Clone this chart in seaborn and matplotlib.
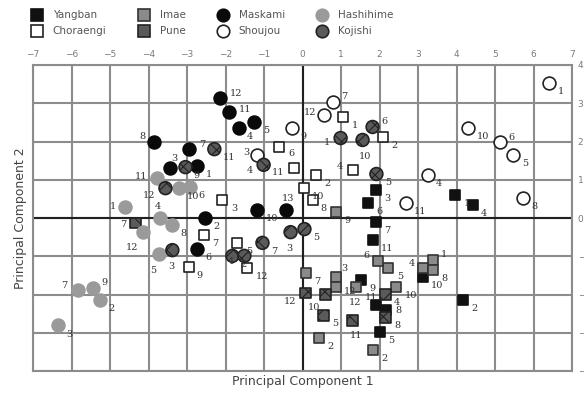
import numpy as np
import pandas as pd
import matplotlib
matplotlib.use("Agg")
import matplotlib.pyplot as plt
import seaborn as sns
from matplotlib.lines import Line2D

# ---------------- data ----------------
groups = ["Yangban", "Choraengi", "Imae", "Pune", "Maskami", "Shoujou", "Hashihime", "Kojishi"]

yangban_x = [3.97, 4.18, 1.90, 4.42, 2.00, 1.69, 1.90, 1.51, 3.12, 1.82, 1.90, 2.16]
yangban_y = [0.60, -2.14, 0.73, 0.34, -2.98, 0.39, -0.10, -1.62, -1.54, -0.58, -2.27, -2.41]
yangban_lab = ["1", "2", "3", "4", "5", "6", "7", "9", "10", "11", "12", "8"]

choraengi_x = [1.06, 2.10, -2.08, 1.32, -1.69, -0.62, -2.57, 0.26, -2.96, 0.03, -0.23, -1.43, 0.34]
choraengi_y = [2.64, 2.12, 0.47, 1.25, -0.65, 1.86, -0.44, 0.47, -1.28, 0.78, 1.31, -1.31, 1.12]
choraengi_lab = ["1", "2", "3", "4", "5", "6", "7", "8", "9", "10", "11", "12", "2"]

imae_x = [3.38, 0.42, 1.84, 0.86, 3.12, 2.23, 1.95, 0.08, 3.40, 0.86, 2.44, 1.40, 0.86]
imae_y = [-1.10, -3.14, -3.45, -1.54, -1.31, -1.31, -1.12, -1.44, -1.36, 0.16, -1.80, -1.80, -1.80]
imae_lab = ["1", "2", "2", "3", "4", "5", "6", "7", "8", "9", "10", "11", "12"]

pune_x = [0.08, 0.60, 0.55, 1.30, 2.16, 2.16, -4.34]
pune_y = [-1.96, -2.01, -2.54, -2.67, -1.99, -2.59, -0.13]
pune_lab = ["12", "10", "5", "11", "4", "8", "7"]

maskami_x = [-2.13, -1.90, -1.66, -1.25, -3.87, -2.94, -3.45, -2.73, -1.17, -0.42, -2.52, -2.73]
maskami_y = [3.14, 2.77, 2.35, 2.51, 1.99, 1.80, 1.31, 1.36, 0.21, 0.21, 0.00, -0.81]
maskami_lab = ["12", "11", "4", "5", "8", "7", "3", "1", "10", "13", "2", "6"]

shoujou_x = [6.39, -1.19, 3.25, 5.48, 5.14, 0.78, 5.74, -0.26, 4.31, 2.68, 0.55]
shoujou_y = [3.53, 1.65, 1.12, 1.65, 1.99, 3.03, 0.52, 2.35, 2.35, 0.38, 2.69]
shoujou_lab = ["1", "3", "4", "5", "6", "7", "8", "9", "10", "11", "12"]

hashihime_x = [-4.60, -5.25, -6.34, -3.69, -3.74, -2.91, -5.84, -3.38, -5.45, -3.22, -3.77, -4.13]
hashihime_y = [0.29, -2.14, -2.80, 0.00, -0.94, 0.81, -1.88, -0.18, -1.83, 0.78, 1.05, -0.37]
hashihime_lab = ["1", "2", "3", "4", "5", "6", "7", "8", "9", "10", "11", "12"]

kojishi_x = [-3.56, -2.29, -3.04, -1.01, 0.99, 1.82, 1.56, 1.92, -0.31, 0.05, -1.04, -1.82, -1.51, -3.38]
kojishi_y = [0.78, 1.80, 1.33, 1.39, 2.09, 2.38, 2.04, 1.15, -0.37, -0.29, -0.65, -0.99, -0.99, -0.84]
kojishi_lab = ["12", "11", "9", "4", "1", "6", "10", "5", "3", "5", "7", "2", "4", "3"]

data = {
    "Yangban": (yangban_x, yangban_y, yangban_lab),
    "Choraengi": (choraengi_x, choraengi_y, choraengi_lab),
    "Imae": (imae_x, imae_y, imae_lab),
    "Pune": (pune_x, pune_y, pune_lab),
    "Maskami": (maskami_x, maskami_y, maskami_lab),
    "Shoujou": (shoujou_x, shoujou_y, shoujou_lab),
    "Hashihime": (hashihime_x, hashihime_y, hashihime_lab),
    "Kojishi": (kojishi_x, kojishi_y, kojishi_lab),
}

# ---------------- style ----------------
styles = {
    "Yangban":   dict(marker="s", face="#111111", edge="#111111", s=62, hatch=None),
    "Choraengi": dict(marker="s", face="white",   edge="#222222", s=62, hatch=None),
    "Imae":      dict(marker="s", face="#8a8a8a", edge="#333333", s=62, hatch=None),
    "Pune":      dict(marker="s", face="#5a5a5a", edge="#222222", s=62, hatch="xx"),
    "Maskami":   dict(marker="o", face="#0a0a0a", edge="#0a0a0a", s=85, hatch=None),
    "Shoujou":   dict(marker="o", face="white",   edge="#222222", s=85, hatch=None),
    "Hashihime": dict(marker="o", face="#9a9a9a", edge="#9a9a9a", s=85, hatch=None),
    "Kojishi":   dict(marker="o", face="#5a5a5a", edge="#222222", s=85, hatch="xx"),
}

# label offsets (points) : default lower-right
label_offsets = {
    ("Maskami", "12"): (7, 3), ("Maskami", "11"): (7, 2), ("Maskami", "8"): (-10, 4),
    ("Maskami", "7"): (7, 3), ("Maskami", "3"): (1, 7), ("Maskami", "13"): (-3, 8),
    ("Shoujou", "7"): (6, 4), ("Shoujou", "12"): (-14, 2), ("Shoujou", "3"): (-10, 2),
    ("Shoujou", "6"): (6, 3), ("Shoujou", "1"): (7, -6),
    ("Choraengi", "4"): (-12, 3), ("Choraengi", "11"): (-16, -3), ("Choraengi", "6"): (7, -5),
    ("Kojishi", "12"): (-16, -5), ("Kojishi", "1"): (-12, -3), ("Kojishi", "10"): (-3, -12),
    ("Kojishi", "4"): (-12, -4), ("Kojishi", "6"): (6, 4), ("Kojishi", "3"): (-3, -12),
    ("Hashihime", "1"): (-11, 0), ("Hashihime", "4"): (-4, 8), ("Hashihime", "7"): (-12, 3),
    ("Hashihime", "9"): (6, 4), ("Hashihime", "12"): (-13, -11), ("Hashihime", "11"): (-16, 1),
    ("Hashihime", "5"): (-6, -12), ("Hashihime", "3"): (6, -7),
    ("Pune", "12"): (-16, -6), ("Pune", "7"): (-11, -1), ("Pune", "11"): (-2, -11),
    ("Pune", "10"): (-13, -9),
    ("Imae", "6"): (-10, 4), ("Imae", "1"): (6, 4), ("Imae", "4"): (-10, 3), ("Imae", "3"): (4, 6),
    ("Imae", "11"): (6, -8), ("Imae", "12"): (6, -3),
    ("Yangban", "12"): (-19, 2), ("Yangban", "8"): (7, 0),
}

sns.set_theme(style="white")
plt.rcParams["font.family"] = ["DejaVu Sans"]
plt.rcParams["hatch.color"] = "#c8c8c8"
plt.rcParams["hatch.linewidth"] = 0.8

fig = plt.figure(figsize=(5.84, 4.0), dpi=100)
ax = fig.add_axes([33 / 584, 1 - 371 / 400, (572 - 33) / 584, (371 - 65) / 400])

for g in groups:
    xs, ys, labs = data[g]
    st = styles[g]
    df = pd.DataFrame({"x": xs, "y": ys})
    sns.scatterplot(data=df, x="x", y="y", ax=ax, marker=st["marker"], s=st["s"],
                    color=st["face"], edgecolor=st["edge"], linewidth=1.2,
                    legend=False, zorder=4)
    coll = ax.collections[-1]
    if st["hatch"]:
        coll.set_hatch(st["hatch"])
        try:
            coll.set_hatchcolor("#c8c8c8")
        except Exception:
            pass
    for x, y, lab in zip(xs, ys, labs):
        dx, dy = label_offsets.get((g, lab), (6, -6))
        ax.annotate(lab, (x, y), xytext=(dx, dy), textcoords="offset points",
                    fontsize=7, family="DejaVu Serif", color="#333333",
                    ha="left", va="center", zorder=5)

ax.set_xlim(-7, 7)
ax.set_ylim(-4, 4)
ax.set_xticks(range(-7, 8))
ax.set_yticks(range(-4, 5))
ax.grid(True, color="#8c8c8c", lw=1.5, zorder=0)
ax.axhline(0, color="#202020", lw=1.5, zorder=1)
ax.axvline(0, color="#202020", lw=1.5, zorder=1)
for sp in ax.spines.values():
    sp.set_color("#8c8c8c")
    sp.set_linewidth(1.5)
ax.xaxis.tick_top()
ax.yaxis.tick_right()
ax.tick_params(axis="both", length=0, labelsize=6.5, labelcolor="#7a7a7a", pad=4)
ax.set_xlabel("Principal Component 1", fontsize=9, color="#444444", labelpad=3)
ax.set_ylabel("Principal Component 2", fontsize=9, color="#444444", labelpad=4)
ax.xaxis.set_label_position("bottom")
ax.yaxis.set_label_position("left")

handles = []
for g in groups:
    st = styles[g]
    h = Line2D([], [], linestyle="none", marker=st["marker"], markersize=8 if st["marker"] == "s" else 9,
               markerfacecolor=st["face"], markeredgecolor=st["edge"], markeredgewidth=1.2, label=g)
    handles.append(h)
fig.legend(handles=handles, ncol=4, loc="upper left", bbox_to_anchor=(0.035, 0.99),
           frameon=False, fontsize=7.5, labelcolor="#555555", handletextpad=0.5,
           columnspacing=2.6, labelspacing=0.6, borderaxespad=0.2)

fig.savefig("out.png", dpi=100)
